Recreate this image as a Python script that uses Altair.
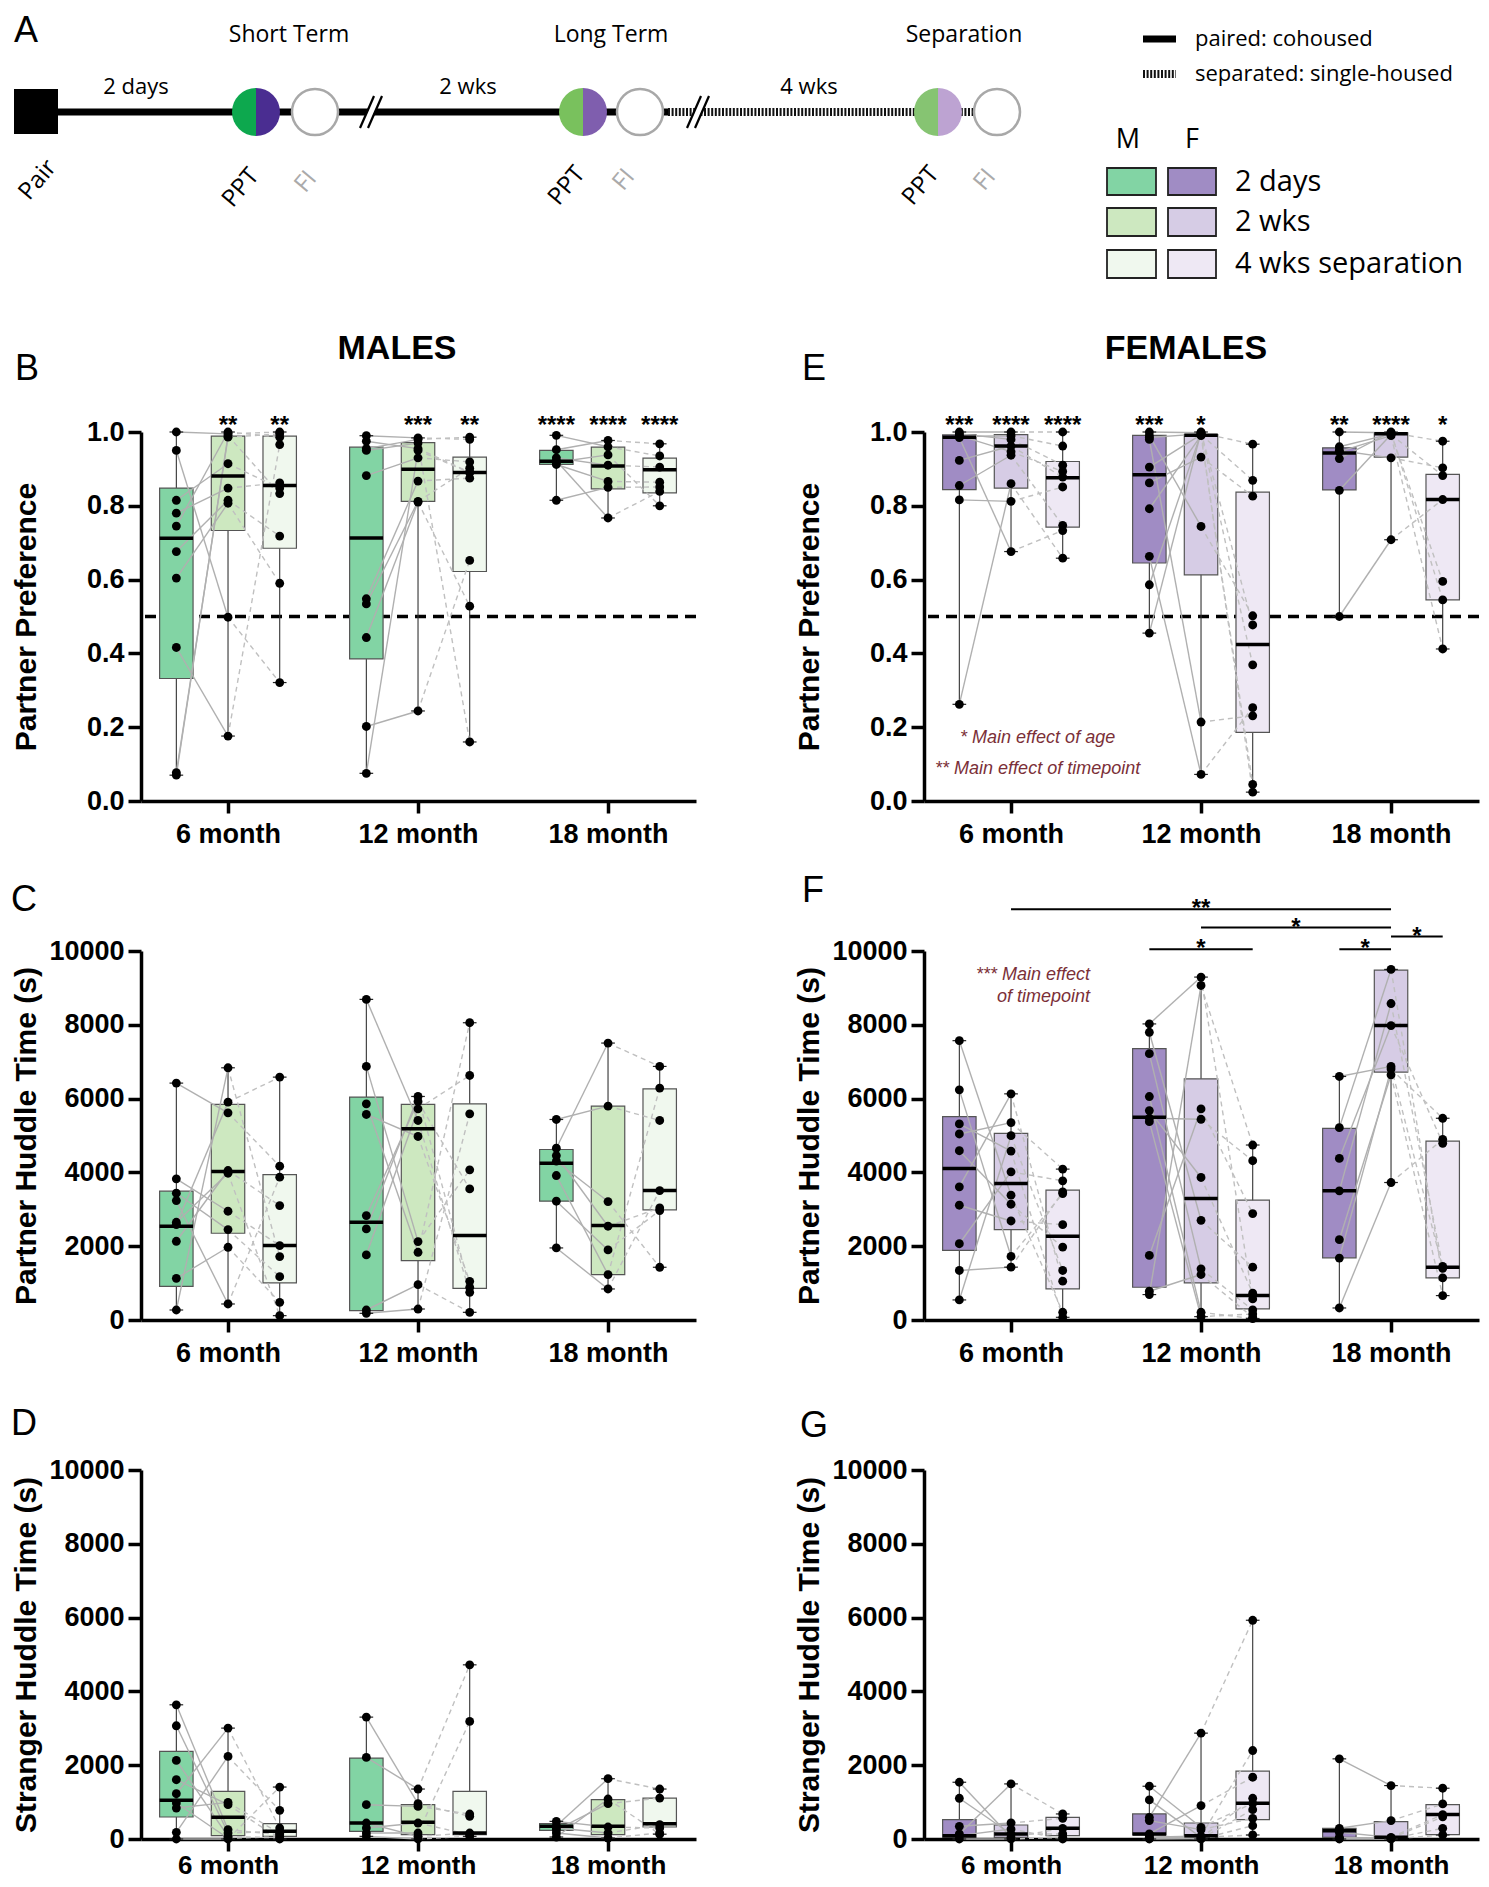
import math
import altair as alt
import pandas as pd

# ---------------------------------------------------------------- data
AGES = ["6 month", "12 month", "18 month"]
TIMEPOINTS = ["2 days", "2 wks", "4 wks separation"]
MALE_FILL = ["#82D4A4", "#CDE8C0", "#F0F8EE"]
FEMALE_FILL = ["#A08CC4", "#D6CCE5", "#EEE8F4"]

# each age: [2 days, 2 wks, 4 wks] ; index i = same animal
B_6M = [[1.0, 0.95, 0.815, 0.78, 0.745, 0.676, 0.604, 0.416, 0.077, 0.07],
        [0.995, 0.498, 0.914, 0.848, 1.0, 0.815, 0.807, 0.176, 0.986, 0.99],
        [1.0, 0.321, 0.848, 0.862, 0.986, 0.718, 0.59, 0.966, 0.995, 0.833]]
B_12M = [[0.99, 0.975, 0.955, 0.95, 0.882, 0.548, 0.534, 0.443, 0.202, 0.075],
         [0.984, 0.955, 0.98, 0.97, 0.93, 0.867, 0.812, 0.81, 0.244, 0.95],
         [0.98, 0.891, 0.986, 0.16, 0.919, 0.875, 0.902, 0.528, 0.652, 0.89]]
B_18M = [[0.991, 0.952, 0.93, 0.922, 0.918, 0.912, 0.815],
         [0.96, 0.977, 0.91, 0.767, 0.938, 0.866, 0.85],
         [0.935, 0.968, 0.905, 0.839, 0.8, 0.864, 0.851]]
B_Q1 = [0.332, 0.733, 0.685, 0.385, 0.812, 0.622, 0.912, 0.846, 0.835]
B_MED = [0.712, 0.881, 0.855, 0.713, 0.899, 0.89, 0.921, 0.908, 0.898]
B_Q3 = [0.848, 0.989, 0.989, 0.959, 0.971, 0.932, 0.95, 0.959, 0.929]
B_STARS = ["", "**", "**", "", "***", "**", "****", "****", "****"]

E_6M = [[1.0, 0.995, 0.99, 0.988, 0.985, 0.923, 0.855, 0.816, 0.262],
        [1.0, 0.98, 0.947, 0.99, 0.676, 0.962, 0.937, 0.812, 0.86],
        [1.0, 0.91, 0.893, 0.962, 0.733, 0.878, 0.747, 0.851, 0.658]]
E_12M = [[1.0, 0.99, 0.985, 0.98, 0.905, 0.862, 0.792, 0.663, 0.586, 0.455],
         [0.998, 0.744, 0.995, 0.214, 0.993, 0.932, 0.99, 0.072, 0.997, 1.0],
         [0.369, 0.502, 0.024, 0.231, 0.869, 0.826, 0.045, 0.253, 0.967, 0.477]]
E_18M = [[1.0, 0.96, 0.95, 0.947, 0.928, 0.842, 0.5],
         [0.998, 0.995, 0.93, 0.99, 1.0, 0.993, 0.708],
         [0.975, 0.595, 0.903, 0.412, 0.545, 0.882, 0.817]]
E_Q1 = [0.844, 0.848, 0.742, 0.645, 0.613, 0.186, 0.843, 0.932, 0.545]
E_MED = [0.986, 0.962, 0.876, 0.884, 0.991, 0.424, 0.943, 0.995, 0.817]
E_Q3 = [0.992, 0.993, 0.92, 0.991, 0.993, 0.837, 0.957, 0.998, 0.885]
E_STARS = ["***", "****", "****", "***", "*", "", "**", "****", "*"]

C_6M = [[6420, 3825, 3436, 3237, 2649, 2586, 2134, 1130, 271],
        [5615, 2948, 2450, 434, 3978, 5904, 4051, 1971, 6835],
        [4168, 2016, 1175, 3870, 118, 6582, 3101, 479, 1718]]
C_12M = [[8689, 6872, 5859, 5570, 2830, 2468, 1763, 271, 181],
         [5407, 2125, 1835, 4973, 5922, 6058, 5723, 958, 298],
         [750, 4069, 8056, 1049, 3553, 886, 6627, 208, 5588]]
C_18M = [[5434, 4656, 4457, 4304, 3915, 3219, 1953],
         [5796, 7505, 2541, 3210, 1230, 1899, 841],
         [5407, 6872, 3038, 1429, 6284, 2966, 3508]]
C_Q1 = [913, 2351, 1004, 253, 1609, 859, 3219, 1230, 2984]
C_MED = [2541, 4024, 2016, 2649, 5181, 2288, 4250, 2559, 3508]
C_Q3 = [3490, 5841, 3942, 6040, 5841, 5859, 4620, 5796, 6266]

F_6M = [[7570, 6237, 5313, 5041, 4587, 3608, 3110, 2067, 1342, 544],
        [3382, 1723, 4578, 5349, 3137, 6129, 2684, 4016, 1432, 4995],
        [209, 3427, 73, 4089, 1976, 1052, 2584, 3772, 3472, 1342]]
F_12M = [[8024, 7797, 7217, 6056, 5675, 5467, 5376, 1750, 780, 689],
         [9293, 2702, 1387, 209, 3862, 5440, 91, 5721, 1233, 9066],
         [571, 1432, 272, 40, 725, 4316, 163, 2883, 73, 4742]]
F_18M = [[6600, 5213, 4379, 3500, 2176, 1677, 326],
         [6872, 9501, 7978, 8577, 6646, 6800, 3726],
         [1400, 1142, 4787, 1451, 662, 5467, 4896]]
F_Q1 = [1886, 2448, 843, 888, 1006, 299, 1686, 6718, 1142]
F_MED = [4107, 3699, 2267, 5494, 3291, 662, 3500, 7978, 1432]
F_Q3 = [5512, 5059, 3518, 7353, 6537, 3246, 5195, 9483, 4850]
# (age from, tp from, age to, tp to, height, label)
F_SIG = [(0, 1, 2, 1, 11133, "**"), (1, 1, 2, 1, 10635, "*"), (2, 1, 2, 2, 10390, "*"),
         (1, 0, 1, 2, 10045, "*"), (2, 0, 2, 1, 10045, "*")]

D_6M = [[3637, 3069, 2130, 1606, 1227, 975, 839, 181, 0],
        [253, 162, 72, 930, 3005, 20, 993, 2238, 0],
        [117, 208, 27, 0, 298, 60, 150, 776, 1408]]
D_12M = [[3303, 2211, 930, 433, 298, 162, 72],
         [957, 1354, 884, 72, 433, 162, 0],
         [614, 4720, 677, 162, 117, 3186, 72]]
D_18M = [[478, 361, 298, 250, 162, 54],
         [325, 1634, 162, 957, 27, 1083],
         [298, 1354, 388, 1110, 162, 130]]
D_Q1 = [596, 90, 72, 208, 117, 117, 235, 117, 325]
D_MED = [1047, 587, 208, 433, 451, 162, 343, 343, 415]
D_Q3 = [2374, 1291, 415, 2193, 930, 1291, 415, 1065, 1110]

G_6M = [[1538, 1104, 344, 136, 90, 0],
        [45, 136, 434, 1493, 271, 0],
        [290, 136, 561, 679, 0, 45]]
G_12M = [[1430, 1059, 588, 498, 136, 100, 50, 20, 0],
         [317, 45, 2869, 253, 905, 0, 80, 30, 10],
         [968, 109, 5928, 561, 1674, 362, 2398, 1104, 796]]
G_18M = [[2172, 290, 181, 45, 20, 0],
         [1448, 498, 45, 20, 10, 0],
         [1376, 950, 661, 600, 290, 109]]
G_Q1 = [45, 45, 90, 109, 45, 525, 45, 45, 118]
G_MED = [90, 136, 290, 136, 90, 968, 226, 45, 661]
G_Q3 = [525, 380, 588, 679, 434, 1837, 290, 470, 932]

# ---------------------------------------------------------------- styling
FONT = "Liberation Sans"
SANS = "Open Sans"
NOTE_COLOR = "#7B3038"
PW, PH = 555, 369
HH = 274
XDOM = [-0.458, 2.463]
OFF = 0.272
BOXW = 0.088
CAPW = 0.036


def xpos(a, t):
    return a + (t - 1) * OFF


def panel(points, q1, med, q3, fills, ymax, ystep, yfmt, ytitle, letter, letter_xy,
          heading=None, heading_x=None, stars=None, ref=None, sig=None, notes=None,
          xlab_pad=8, xlab_size=27):
    prow = []
    for a in range(3):
        for t in range(3):
            for i, v in enumerate(points[a][t]):
                prow.append({"age": a, "tp": t, "animal": f"{a}-{i}", "value": v, "x": xpos(a, t)})
    pts = pd.DataFrame(prow)
    brow = []
    for k in range(9):
        a, t = divmod(k, 3)
        vals = points[a][t]
        xc = xpos(a, t)
        brow.append({"x": xc, "xl": xc - BOXW, "xr": xc + BOXW, "cl": xc - CAPW, "cr": xc + CAPW,
                     "q1": q1[k], "med": med[k], "q3": q3[k], "lo": min(vals), "hi": max(vals),
                     "fill": fills[t], "star": (stars[k] if stars else ""), "top": ymax})
    bx = pd.DataFrame(brow)

    xs = alt.Scale(domain=XDOM, nice=False, zero=False)
    ys = alt.Scale(domain=[0, ymax], nice=False, zero=False)
    label_expr = "[" + ",".join(f"'{s}'" for s in AGES) + "][datum.value]"
    xaxis = alt.Axis(values=[0, 1, 2], labelExpr=label_expr, title=None, grid=False,
                     domainColor="black", domainWidth=3.5, tickColor="black", tickWidth=3.5,
                     tickSize=12, labelFont=FONT, labelFontSize=xlab_size, labelFontWeight="bold",
                     labelColor="black", labelPadding=xlab_pad, labelFlush=False, labelOverlap=False)
    nt = int(round(ymax / ystep))
    yaxis = alt.Axis(values=[round(i * ystep, 6) for i in range(nt + 1)], format=yfmt,
                     title=ytitle, grid=False, domainColor="black", domainWidth=3.5,
                     tickColor="black", tickWidth=3.5, tickSize=13, labelFont=FONT,
                     labelFontSize=27, labelFontWeight="bold", labelColor="black",
                     labelPadding=4, labelOverlap=False, titleFont=FONT, titleFontSize=30,
                     titleFontWeight="bold", titleColor="black", titleAngle=270,
                     titleBaseline="alphabetic", titleX=-106, titleY=PH / 2, titleAlign="center")

    def X(f):
        return alt.X(f, type="quantitative", scale=xs, axis=xaxis)

    def Y(f):
        return alt.Y(f, type="quantitative", scale=ys, axis=yaxis)

    layers = []
    if ref is not None:
        layers.append(alt.Chart(pd.DataFrame({"v": [ref]})).mark_rule(
            color="black", strokeWidth=3.5, strokeDash=[11, 7]).encode(y=Y("v")))
    base = alt.Chart(bx)
    layers.append(base.mark_rule(color="#333333", strokeWidth=1.1).encode(
        x=X("x"), y=Y("lo"), y2="hi"))
    layers.append(base.mark_rect(stroke="#555555", strokeWidth=1.2).encode(
        x=X("xl"), x2="xr", y=Y("q1"), y2="q3", fill=alt.Fill("fill:N", scale=None)))
    layers.append(alt.Chart(pts[pts.tp <= 1]).mark_line(
        color="#b0b0b0", strokeWidth=1.4).encode(
        x=X("x"), y=Y("value"), detail="animal:N", order="tp:Q"))
    layers.append(alt.Chart(pts[pts.tp >= 1]).mark_line(
        color="#c0c0c0", strokeWidth=1.4, strokeDash=[5, 4]).encode(
        x=X("x"), y=Y("value"), detail="animal:N", order="tp:Q"))
    layers.append(base.mark_rule(color="black", strokeWidth=3.5).encode(
        x=X("xl"), x2="xr", y=Y("med")))
    layers.append(base.mark_rule(color="#222222", strokeWidth=1.2).encode(
        x=X("cl"), x2="cr", y=Y("lo")))
    layers.append(base.mark_rule(color="#222222", strokeWidth=1.2).encode(
        x=X("cl"), x2="cr", y=Y("hi")))
    layers.append(alt.Chart(pts).mark_circle(size=78, color="black", opacity=1).encode(
        x=X("x"), y=Y("value")))
    if stars:
        layers.append(base.mark_text(font=FONT, fontSize=24, fontWeight="bold", color="black",
                                     baseline="alphabetic", dy=1).encode(
            x=X("x"), y=Y("top"), text="star:N"))
    if sig:
        sdf = pd.DataFrame([{"x1": xpos(a0, t0), "x2": xpos(a1, t1),
                             "xm": (xpos(a0, t0) + xpos(a1, t1)) / 2, "y": yv, "lab": lab}
                            for a0, t0, a1, t1, yv, lab in sig])
        layers.append(alt.Chart(sdf).mark_rule(color="black", strokeWidth=2).encode(
            x=X("x1"), x2="x2", y=Y("y")))
        layers.append(alt.Chart(sdf).mark_text(font=FONT, fontSize=24, fontWeight="bold",
                                               color="black", baseline="alphabetic", dy=7).encode(
            x=X("xm"), y=Y("y"), text="lab:N"))
    if notes:
        for align, rows in notes:
            ndf = pd.DataFrame(rows, columns=["x", "y", "t"])
            layers.append(alt.Chart(ndf).mark_text(font=FONT, fontSize=18, fontStyle="italic",
                                                   color=NOTE_COLOR, align=align,
                                                   baseline="alphabetic").encode(
                x=X("x"), y=Y("y"), text="t:N"))
    layers.append(alt.Chart(pd.DataFrame({"t": [letter]})).mark_text(
        font=FONT, fontSize=36, color="black", align="left", baseline="alphabetic").encode(
        x=alt.value(letter_xy[0]), y=alt.value(letter_xy[1]), text="t:N"))
    if heading:
        layers.append(alt.Chart(pd.DataFrame({"t": [heading]})).mark_text(
            font=FONT, fontSize=34, fontWeight="bold", color="black", align="center",
            baseline="alphabetic").encode(
            x=alt.value(heading_x), y=alt.value(-73), text="t:N"))
    return alt.layer(*layers).properties(width=PW, height=PH)


pB = panel([B_6M, B_12M, B_18M], B_Q1, B_MED, B_Q3, MALE_FILL, 1.0, 0.2, ".1f",
           "Partner Preference", "B", (-126, -52), heading="MALES", heading_x=256,
           stars=B_STARS, ref=0.5)
pE = panel([E_6M, E_12M, E_18M], E_Q1, E_MED, E_Q3, FEMALE_FILL, 1.0, 0.2, ".1f",
           "Partner Preference", "E", (-122, -52), heading="FEMALES", heading_x=262,
           stars=E_STARS, ref=0.5,
           notes=[("center", [(0.14, 0.157, "* Main effect of age"),
                              (0.14, 0.073, "** Main effect of timepoint")])])
pC = panel([C_6M, C_12M, C_18M], C_Q1, C_MED, C_Q3, MALE_FILL, 10000, 2000, "d",
           "Partner Huddle Time (s)", "C", (-130, -40))
pF = panel([F_6M, F_12M, F_18M], F_Q1, F_MED, F_Q3, FEMALE_FILL, 10000, 2000, "d",
           "Partner Huddle Time (s)", "F", (-122, -49), sig=F_SIG,
           notes=[("right", [(0.416, 9214, "*** Main effect"), (0.416, 8618, "of timepoint")])])
pD = panel([D_6M, D_12M, D_18M], D_Q1, D_MED, D_Q3, MALE_FILL, 10000, 2000, "d",
           "Stranger Huddle Time (s)", "D", (-130, -35), xlab_pad=1, xlab_size=26)
pG = panel([G_6M, G_12M, G_18M], G_Q1, G_MED, G_Q3, FEMALE_FILL, 10000, 2000, "d",
           "Stranger Huddle Time (s)", "G", (-124, -33), xlab_pad=1, xlab_size=26)

# ---------------------------------------------------------------- header (schematic)


def header_enc(x0, x1):
    xs = alt.Scale(domain=[x0, x1], nice=False, zero=False)
    ys = alt.Scale(domain=[8, 8 + HH], nice=False, zero=False, reverse=True)

    def HX(f):
        return alt.X(f, type="quantitative", scale=xs, axis=None)

    def HY(f):
        return alt.Y(f, type="quantitative", scale=ys, axis=None)
    return HX, HY


def text_layer(HX, HY, rows, **kw):
    df = pd.DataFrame(rows, columns=["x", "y", "t"])
    return alt.Chart(df).mark_text(**kw).encode(x=HX("x"), y=HY("y"), text="t:N")


HX, HY = header_enc(141, 696)
hl_layers = []
# anchor for the page's top-left corner
hl_layers.append(alt.Chart(pd.DataFrame({"x": [8], "x2": [9], "y": [8], "y2": [9]})).mark_rect(
    opacity=0).encode(x=HX("x"), x2="x2", y=HY("y"), y2="y2"))
hl_layers.append(alt.Chart(pd.DataFrame({"x": [50], "x2": [668], "y": [112]})).mark_rule(
    color="black", strokeWidth=7).encode(x=HX("x"), x2="x2", y=HY("y")))
hl_layers.append(alt.Chart(pd.DataFrame({"x": [668, 950], "x2": [925, 978], "y": [112, 112]})).mark_rule(
    color="#111111", strokeWidth=8, strokeDash=[2, 1.6]).encode(x=HX("x"), x2="x2", y=HY("y")))
hl_layers.append(alt.Chart(pd.DataFrame({"x": [14], "x2": [58], "y": [89], "y2": [134]})).mark_rect(
    color="black").encode(x=HX("x"), x2="x2", y=HY("y"), y2="y2"))
BREAKS = [371, 698]
wb = pd.DataFrame([{"x": b - 7, "x2": b + 7, "y": 128, "y2": 96} for b in BREAKS])
bb = pd.DataFrame([{"x": b - 7 + d, "x2": b + 7 + d, "y": 128, "y2": 96} for b in BREAKS for d in (-4, 4)])
hl_layers.append(alt.Chart(wb).mark_rule(color="white", strokeWidth=6).encode(
    x=HX("x"), x2="x2", y=HY("y"), y2="y2"))
hl_layers.append(alt.Chart(bb).mark_rule(color="black", strokeWidth=2.2).encode(
    x=HX("x"), x2="x2", y=HY("y"), y2="y2"))
STAGE_X = [256, 583, 938]
FI_X = [315, 640, 997]
STAGE_LEFT = ["#0DA84E", "#79C15D", "#86C472"]
STAGE_RIGHT = ["#4A2D91", "#7F5EAE", "#BDA3D2"]
arcs = []
for cx, cl, cr in zip(STAGE_X, STAGE_LEFT, STAGE_RIGHT):
    arcs.append({"x": cx, "y": 112, "t0": math.pi, "t1": 2 * math.pi, "c": cl})
    arcs.append({"x": cx, "y": 112, "t0": 0.0, "t1": math.pi, "c": cr})
hl_layers.append(alt.Chart(pd.DataFrame(arcs)).mark_arc(radius=24).encode(
    x=HX("x"), y=HY("y"), theta=alt.Theta("t0:Q", scale=None, stack=None),
    theta2="t1:Q", fill=alt.Fill("c:N", scale=None)))
hl_layers.append(alt.Chart(pd.DataFrame({"x": FI_X, "y": [112] * 3})).mark_point(
    shape="circle", filled=True, fill="white", stroke="#A8A8A8", strokeWidth=2.5, size=2116,
    opacity=1).encode(x=HX("x"), y=HY("y")))
hl_layers.append(text_layer(HX, HY, [(14, 42, "A")], font=FONT, fontSize=36, color="black",
                            align="left", baseline="alphabetic"))
hl_layers.append(text_layer(HX, HY, [(289, 35, "Short Term"), (611, 35, "Long Term"),
                                     (964, 35, "Separation")],
                            font=SANS, fontSize=23, color="black", align="center", baseline="middle"))
hl_layers.append(text_layer(HX, HY, [(136, 87, "2 days"), (468, 87, "2 wks"), (809, 87, "4 wks")],
                            font=SANS, fontSize=22, color="black", align="center", baseline="middle"))
hl_layers.append(text_layer(HX, HY, [(38, 180, "Pair"), (241, 188, "PPT"), (567, 186, "PPT"),
                                     (921, 186, "PPT")],
                            font=SANS, fontSize=24, color="black", align="center", baseline="middle",
                            angle=310))
hl_layers.append(text_layer(HX, HY, [(306, 182, "FI"), (624, 180, "FI"), (985, 180, "FI")],
                            font=SANS, fontSize=24, color="#AAAAAA", align="center", baseline="middle",
                            angle=310))
hl = alt.layer(*hl_layers).properties(width=PW, height=HH)

RX, RY = header_enc(924, 1479)
hr_layers = []
hr_layers.append(alt.Chart(pd.DataFrame({"x": [1143], "x2": [1176], "y": [39]})).mark_rule(
    color="black", strokeWidth=7).encode(x=RX("x"), x2="x2", y=RY("y")))
hr_layers.append(alt.Chart(pd.DataFrame({"x": [1143], "x2": [1176], "y": [74]})).mark_rule(
    color="#111111", strokeWidth=8, strokeDash=[2, 1.6]).encode(x=RX("x"), x2="x2", y=RY("y")))
hr_layers.append(text_layer(RX, RY, [(1195, 39, "paired: cohoused"),
                                     (1195, 74, "separated: single-housed")],
                            font=SANS, fontSize=22, color="black", align="left", baseline="middle"))
hr_layers.append(text_layer(RX, RY, [(1128, 140, "M"), (1192, 140, "F")],
                            font=SANS, fontSize=27, color="black", align="center", baseline="middle"))
SW_ROWS = [(168, 195), (208, 236), (250, 278)]
sw = []
for t, (y0, y1) in enumerate(SW_ROWS):
    sw.append({"x": 1107, "x2": 1156, "y": y0, "y2": y1, "c": MALE_FILL[t]})
    sw.append({"x": 1168, "x2": 1216, "y": y0, "y2": y1, "c": FEMALE_FILL[t]})
hr_layers.append(alt.Chart(pd.DataFrame(sw)).mark_rect(stroke="#222222", strokeWidth=1.8).encode(
    x=RX("x"), x2="x2", y=RY("y"), y2="y2", fill=alt.Fill("c:N", scale=None)))
hr_layers.append(text_layer(RX, RY, [(1235, (y0 + y1) / 2, lab) for lab, (y0, y1) in zip(TIMEPOINTS, SW_ROWS)],
                            font=SANS, fontSize=29, color="black", align="left", baseline="middle"))
hr = alt.layer(*hr_layers).properties(width=PW, height=HH)

chart = alt.concat(hl, hr, pB, pE, pC, pF, pD, pG, columns=2,
                   spacing={"row": 150, "column": 228}, bounds="flush").properties(
    padding=0, background="white").configure_view(stroke=None)

chart.save("out.html", embed_options={"renderer": "svg", "actions": False})
